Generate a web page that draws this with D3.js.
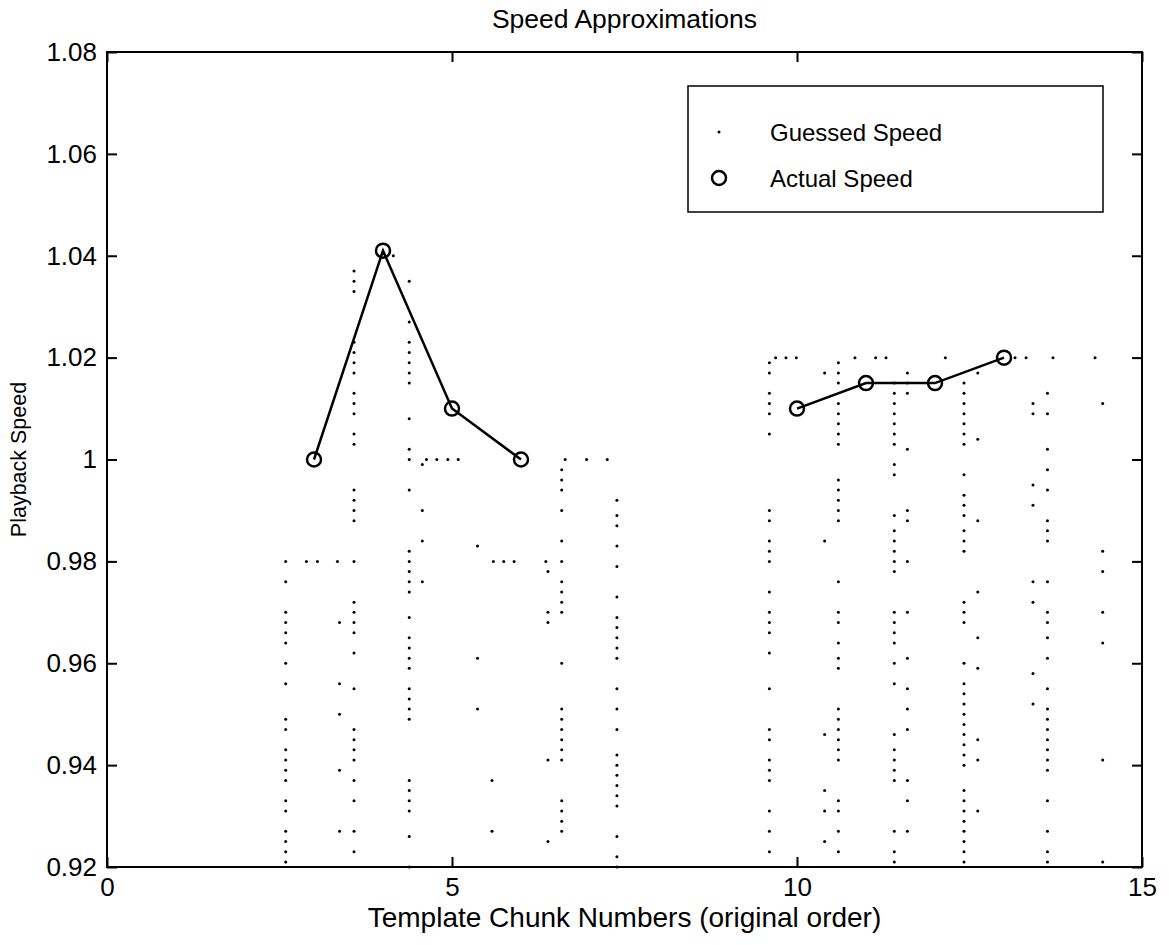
<!DOCTYPE html>
<html>
<head>
<meta charset="utf-8">
<script src="https://cdn.jsdelivr.net/npm/d3@7"></script>
<style>
  html, body { margin: 0; padding: 0; background: #fff; }
  text { font-family: "Liberation Sans", Arial, Helvetica, sans-serif; fill: #000; }
</style>
</head>
<body>
<div id="chart"></div>
<script>
// axis ticks
const xTicks = [0, 5, 10, 15];
const yTicks = [0.92, 0.94, 0.96, 0.98, 1.0, 1.02, 1.04, 1.06, 1.08];
const yTickLabels = ["0.92", "0.94", "0.96", "0.98", "1", "1.02", "1.04", "1.06", "1.08"];

// actual speed (null = gap in the line)
const actualChunks = [3, 4, 5, 6, 7, 8, 9, 10, 11, 12, 13];
const actualSpeed = [1.0, 1.041, 1.01, 1.0, null, null, null, 1.01, 1.015, 1.015, 1.02];

// guessed speeds, stacked in columns
const guessColumnX = [2.59, 3.37, 3.58, 4.38, 4.57, 5.37, 5.58, 6.39, 6.59, 7.39,
  9.60, 10.40, 10.60, 11.41, 11.60, 12.42, 12.62, 13.42, 13.63, 14.43];
const guessColumnY = [
  [0.980, 0.976, 0.970, 0.968, 0.966, 0.964, 0.960, 0.956, 0.949, 0.947, 0.943, 0.941, 0.939, 0.937, 0.933, 0.931, 0.927, 0.925, 0.923, 0.921],
  [0.968, 0.956, 0.950, 0.939, 0.927],
  [1.037, 1.035, 1.033, 1.023, 1.021, 1.019, 1.017, 1.013, 1.011, 1.009, 1.005, 1.003, 0.994, 0.992, 0.990, 0.988, 0.980, 0.972, 0.970, 0.968, 0.966, 0.962, 0.955, 0.947, 0.945, 0.943, 0.941, 0.937, 0.933, 0.927, 0.923],
  [1.035, 1.027, 1.023, 1.021, 1.019, 1.017, 1.015, 1.008, 1.002, 1.000, 0.994, 0.982, 0.980, 0.978, 0.976, 0.974, 0.969, 0.965, 0.963, 0.961, 0.959, 0.955, 0.953, 0.951, 0.949, 0.937, 0.935, 0.933, 0.931, 0.926, 0.920],
  [0.999, 0.990, 0.984, 0.976],
  [0.983, 0.961, 0.951],
  [0.937, 0.927],
  [0.978, 0.970, 0.968, 0.941, 0.925],
  [0.998, 0.996, 0.994, 0.990, 0.984, 0.980, 0.976, 0.974, 0.972, 0.970, 0.960, 0.951, 0.949, 0.947, 0.945, 0.943, 0.941, 0.933, 0.931, 0.929, 0.927],
  [0.992, 0.989, 0.987, 0.983, 0.979, 0.973, 0.969, 0.967, 0.965, 0.963, 0.961, 0.955, 0.951, 0.947, 0.942, 0.940, 0.938, 0.936, 0.934, 0.932, 0.926, 0.922, 0.920],
  [1.019, 1.017, 1.013, 1.011, 1.009, 1.005, 0.990, 0.988, 0.984, 0.982, 0.980, 0.974, 0.970, 0.968, 0.966, 0.962, 0.955, 0.947, 0.945, 0.941, 0.939, 0.937, 0.931, 0.927, 0.923],
  [1.017, 0.984, 0.946, 0.935, 0.931, 0.925],
  [1.019, 1.017, 1.015, 1.011, 1.009, 1.007, 1.005, 1.003, 0.996, 0.994, 0.992, 0.990, 0.988, 0.976, 0.970, 0.968, 0.964, 0.961, 0.959, 0.951, 0.949, 0.947, 0.945, 0.943, 0.941, 0.933, 0.931, 0.927, 0.923],
  [1.015, 1.013, 1.011, 1.009, 1.007, 1.005, 1.003, 0.999, 0.997, 0.989, 0.986, 0.984, 0.982, 0.980, 0.978, 0.970, 0.968, 0.966, 0.964, 0.960, 0.956, 0.946, 0.943, 0.941, 0.939, 0.937, 0.927, 0.923, 0.921],
  [1.017, 1.015, 1.013, 1.002, 0.990, 0.988, 0.980, 0.970, 0.961, 0.955, 0.951, 0.947, 0.937, 0.933, 0.927],
  [1.015, 1.013, 1.011, 1.009, 1.007, 1.005, 1.003, 0.997, 0.993, 0.991, 0.989, 0.986, 0.984, 0.982, 0.972, 0.970, 0.968, 0.960, 0.956, 0.954, 0.952, 0.950, 0.948, 0.946, 0.944, 0.942, 0.940, 0.935, 0.933, 0.931, 0.929, 0.927, 0.925, 0.923, 0.921],
  [1.017, 1.004, 0.988, 0.974, 0.965, 0.959, 0.945, 0.941, 0.931],
  [1.011, 1.009, 0.995, 0.991, 0.976, 0.972, 0.958, 0.952],
  [1.013, 1.009, 1.002, 0.998, 0.994, 0.988, 0.986, 0.984, 0.976, 0.970, 0.968, 0.965, 0.961, 0.955, 0.951, 0.949, 0.947, 0.945, 0.943, 0.941, 0.939, 0.933, 0.927, 0.923, 0.921],
  [1.011, 0.982, 0.978, 0.970, 0.964, 0.941, 0.921]
];

// guessed speeds lying in horizontal runs
const guessRowX = [2.89, 3.05, 3.34, 4.15, 4.63, 4.78, 4.94, 5.09, 5.60, 5.75, 5.90, 6.36,
  6.64, 6.95, 7.25, 9.69, 9.84, 9.99, 10.84, 11.14, 11.29, 12.15, 13.16, 13.32, 13.71, 14.32];
const guessRowY = [0.980, 0.980, 0.980, 1.040, 1.000, 1.000, 1.000, 1.000, 0.980, 0.980, 0.980, 0.980,
  1.000, 1.000, 1.000, 1.020, 1.020, 1.020, 1.020, 1.020, 1.020, 1.020, 1.020, 1.020, 1.020, 1.020];

const width = 1169, height = 945;
const margin = { top: 52, right: 27, bottom: 78, left: 107 };
const innerW = width - margin.left - margin.right;
const innerH = height - margin.top - margin.bottom;

const svg = d3.select('#chart').append('svg')
  .attr('width', width)
  .attr('height', height)
  .style('background', '#fff');

const g = svg.append('g').attr('transform', `translate(${margin.left},${margin.top})`);

const x = d3.scaleLinear().domain([0, 15]).range([0, innerW]);
const y = d3.scaleLinear().domain([0.92, 1.08]).range([innerH, 0]);

// axes, ticks pointing inward on all four sides
const styleAxis = sel => {
  sel.select('.domain').remove();
  sel.selectAll('line').attr('stroke', '#000').attr('stroke-width', 2);
  sel.selectAll('text').style('font-size', '26px').attr('font-family', null);
};

g.append('g')
  .attr('transform', `translate(0,${innerH})`)
  .call(d3.axisBottom(x).tickValues(xTicks).tickFormat(d3.format('d')).tickSizeInner(-10).tickSizeOuter(0).tickPadding(11))
  .call(styleAxis);

g.append('g')
  .call(d3.axisLeft(y).tickValues(yTicks).tickFormat((d, i) => yTickLabels[i]).tickSizeInner(-10).tickSizeOuter(0).tickPadding(10))
  .call(styleAxis);

g.append('g')
  .call(d3.axisTop(x).tickValues(xTicks).tickFormat('').tickSizeInner(-10).tickSizeOuter(0))
  .call(styleAxis);

g.append('g')
  .attr('transform', `translate(${innerW},0)`)
  .call(d3.axisRight(y).tickValues(yTicks).tickFormat('').tickSizeInner(-10).tickSizeOuter(0))
  .call(styleAxis);

g.append('rect')
  .attr('width', innerW)
  .attr('height', innerH)
  .attr('fill', 'none')
  .attr('stroke', '#000')
  .attr('stroke-width', 2);

// guessed points
const guessPoints = [];
guessColumnX.forEach((cx, i) => guessColumnY[i].forEach(v => guessPoints.push([cx, v])));
guessRowX.forEach((rx, i) => guessPoints.push([rx, guessRowY[i]]));

g.selectAll('.guess')
  .data(guessPoints)
  .enter()
  .append('circle')
  .attr('class', 'guess')
  .attr('cx', d => x(d[0]))
  .attr('cy', d => y(d[1]))
  .attr('r', 1.5)
  .attr('fill', '#000');

// actual speed line + circles
const actual = actualChunks.map((c, i) => [c, actualSpeed[i]]);
const line = d3.line()
  .defined(d => d[1] !== null)
  .x(d => x(d[0]))
  .y(d => y(d[1]));

g.append('path')
  .datum(actual)
  .attr('d', line)
  .attr('fill', 'none')
  .attr('stroke', '#000')
  .attr('stroke-width', 2.5);

g.selectAll('.actual')
  .data(actual.filter(d => d[1] !== null))
  .enter()
  .append('circle')
  .attr('class', 'actual')
  .attr('cx', d => x(d[0]))
  .attr('cy', d => y(d[1]))
  .attr('r', 7)
  .attr('fill', 'none')
  .attr('stroke', '#000')
  .attr('stroke-width', 2.5);

// legend
const legend = svg.append('g').attr('transform', 'translate(688,86)');
legend.append('rect')
  .attr('width', 415)
  .attr('height', 126)
  .attr('fill', '#fff')
  .attr('stroke', '#000')
  .attr('stroke-width', 1.5);
legend.append('circle').attr('cx', 31).attr('cy', 46).attr('r', 1.5).attr('fill', '#000');
legend.append('text').attr('x', 82).attr('y', 55).style('font-size', '24px').text('Guessed Speed');
legend.append('circle').attr('cx', 31).attr('cy', 92).attr('r', 7)
  .attr('fill', 'none').attr('stroke', '#000').attr('stroke-width', 2.5);
legend.append('text').attr('x', 82).attr('y', 101).style('font-size', '24px').text('Actual Speed');

// titles
svg.append('text')
  .attr('x', margin.left + innerW / 2)
  .attr('y', 28)
  .attr('text-anchor', 'middle')
  .style('font-size', '26.5px')
  .text('Speed Approximations');

svg.append('text')
  .attr('x', margin.left + innerW / 2)
  .attr('y', 927)
  .attr('text-anchor', 'middle')
  .style('font-size', '28px')
  .text('Template Chunk Numbers (original order)');

svg.append('text')
  .attr('transform', `translate(26,${margin.top + innerH / 2}) rotate(-90)`)
  .attr('text-anchor', 'middle')
  .style('font-size', '21.5px')
  .text('Playback Speed');
</script>
</body>
</html>
